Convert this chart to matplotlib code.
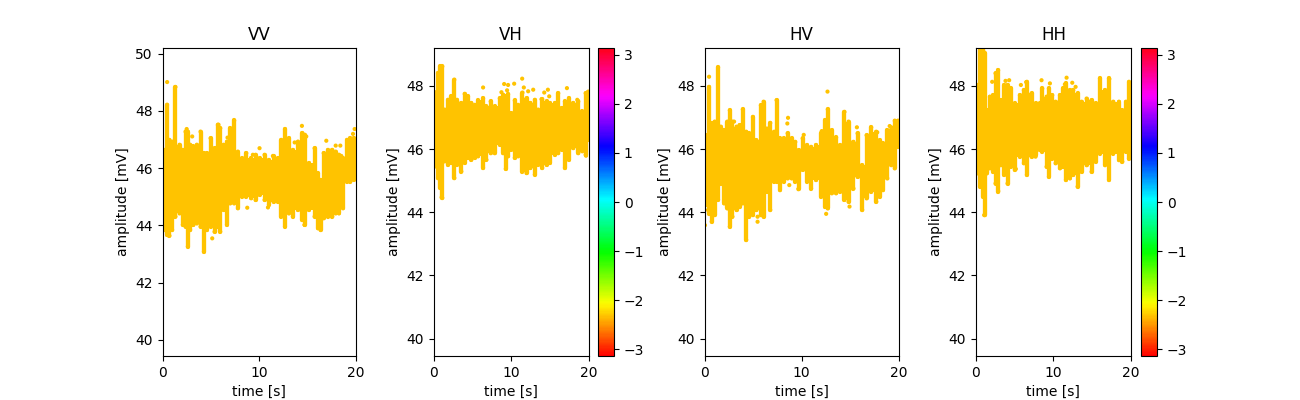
import numpy as np
import matplotlib
matplotlib.use("Agg")
import matplotlib.pyplot as plt

panel_titles = ["VV", "VH", "HV", "HH"]
phase_value = -2.33  # rad

vv_t = [.2,.48,.72,1.0,1.34,1.76,2.1,2.38,2.62,2.86,3.2,3.55,3.93,4.28,4.59,4.97,5.38,5.72,5.97,6.31,6.66,7.0,7.41,7.79,8.24,8.66,9.17,9.62,10.03,10.55,11.0,11.48,11.93,12.28,12.66,13.07,13.48,14.0,14.45,14.69,15.14,15.72,16.07,16.34,16.66,17.1,17.55,17.9,18.24,18.66,19.07,19.41,19.76]
vv_hi = [46.64,48.22,46.99,46.93,48.84,46.82,46.64,47.28,47.28,46.82,46.76,46.82,47.28,46.53,46.53,47.05,46.7,47.52,47.4,46.82,46.93,47.4,47.67,46.58,46.35,46.53,46.35,46.47,46.35,46.47,46.29,46.41,46.35,46.99,47.37,47.05,46.64,46.93,47.23,47.17,46.18,46.7,45.82,45.59,46.53,46.64,46.64,46.58,46.47,46.35,46.99,47.05,47.05]
vv_lo = [43.84,43.67,43.64,43.84,44.31,44.42,44.02,43.96,43.26,43.84,44.02,44.07,43.96,43.08,43.84,43.96,43.78,43.96,43.78,44.54,44.02,44.77,44.77,44.6,45.01,45.01,44.95,44.89,45.07,44.89,44.72,44.83,44.83,44.31,43.96,44.42,44.31,44.54,44.19,44.02,44.54,44.31,43.9,43.84,44.25,44.31,44.31,44.42,44.42,44.6,45.53,45.53,45.59]
vv_out_t = [.48,5.79,2.5,3.07,6.72,10.03,14.41,14.86,13.66,16.93,17.9,18.38,19.69,19.86,8.76,5.14,14.69,10.9,18.48,9.34,11.41]
vv_out_v = [49.01,47.52,47.37,47.11,47.07,46.7,47.48,47.11,46.9,46.96,46.79,46.79,47.2,47.37,44.62,43.55,44.02,44.63,46.43,46.47,46.43]

vh_t = [.22,.56,.86,1.12,1.42,1.85,2.28,2.67,3.01,3.57,4.0,4.43,4.86,5.29,5.72,6.37,6.8,7.35,7.87,8.52,8.95,9.29,9.59,10.02,10.45,10.88,11.44,11.96,12.47,13.03,13.46,13.98,14.54,14.97,15.61,16.04,16.47,16.9,17.42,17.98,18.62,19.14,19.57,19.91]
vh_hi = [47.77,48.41,48.62,48.62,47.25,47.56,47.67,48.2,47.56,47.46,47.75,47.67,47.46,47.4,47.54,47.61,47.35,47.51,47.35,47.61,47.72,47.67,47.74,47.14,47.54,47.4,47.79,47.61,47.46,47.56,47.25,47.58,47.51,47.46,47.46,47.77,47.3,47.51,47.61,47.46,47.51,47.19,47.77,47.82]
vh_lo = [45.45,45.08,44.77,44.45,45.61,45.5,45.56,45.08,45.5,45.29,45.56,45.72,45.66,45.72,45.77,45.4,45.66,45.87,45.87,46.14,45.87,45.37,45.77,45.98,45.72,45.77,45.29,45.24,45.4,45.19,45.5,45.4,45.5,45.56,45.82,45.87,45.98,45.4,45.66,46.03,45.87,45.93,45.82,46.3]
vh_out_t = [6.37,8.73,9.08,9.59,9.46,10.37,11.4,11.61,12.17,12.82,14.24,14.71,14.88,17.16,18.49,19.61,1.03,13.89,.22]
vh_out_v = [47.95,47.8,48.06,48.03,47.86,48.07,48.23,47.95,47.83,47.88,47.79,47.88,47.67,47.93,47.56,45.79,44.47,47.58,47.8]

hv_t = [.14,.45,.72,1.03,1.38,1.66,2.0,2.34,2.59,2.86,3.28,3.59,3.93,4.28,4.59,4.97,5.34,5.79,6.07,6.41,6.76,7.17,7.41,7.76,8.14,8.55,8.97,9.34,9.69,10.1,10.55,10.97,11.48,12.0,12.41,12.69,13.1,13.55,13.97,14.41,14.83,15.34,15.76,16.24,16.69,17.17,17.69,18.03,18.38,18.83,19.24,19.59,19.93]
hv_hi = [46.44,47.97,46.81,46.87,48.59,46.71,46.6,46.87,47.23,46.87,46.71,46.76,47.26,46.55,46.5,47.02,46.28,47.39,47.5,46.65,46.83,46.55,47.55,46.34,46.34,46.5,46.34,46.23,45.97,46.34,46.13,46.07,46.13,46.5,46.92,47.26,46.6,46.37,46.13,47.18,46.87,46.23,46.5,45.49,46.44,46.69,46.55,46.28,46.18,46.6,46.6,46.9,46.9]
hv_lo = [44.23,43.96,43.7,43.91,44.39,44.91,44.28,44.12,43.54,43.86,44.07,44.17,44.28,43.12,43.86,43.91,44.07,43.91,43.86,44.65,44.07,44.97,44.97,44.7,44.97,45.07,45.07,44.97,44.75,45.34,44.97,44.75,45.02,44.49,44.17,44.12,44.6,44.6,44.65,44.39,44.33,44.75,45.12,44.07,44.44,44.65,44.33,44.49,44.7,45.07,45.49,45.39,46.07]
hv_out_t = [.45,12.66,8.59,8.52,10.21,15.69,12.52,14.93,8.31,8.72,9.66,5.45,5.45,.03,.03,19.07,3.03,12.07,17.79,19.24]
hv_out_v = [48.29,47.82,46.99,46.81,46.45,46.69,43.95,44.18,45.19,44.86,44.73,43.7,43.86,43.59,44.07,46.73,46.87,46.57,46.53,46.69]

hh_t = [.22,.6,.95,1.16,1.42,1.81,2.24,2.54,2.88,3.23,3.66,4.09,4.52,5.03,5.68,6.19,6.58,7.18,7.74,8.26,8.56,9.12,9.42,9.85,10.28,10.84,11.27,11.61,12.13,12.56,13.12,13.63,14.28,14.92,15.44,16.0,16.65,17.16,17.72,18.45,18.88,19.35,19.74]
hh_hi = [48.03,49.13,49.13,49.03,47.23,47.66,47.71,48.4,48.5,47.55,48.03,48.03,47.92,47.45,47.71,47.87,48.13,47.76,47.45,47.45,47.92,47.66,47.92,47.71,47.5,47.71,47.92,48.08,47.87,47.87,47.76,47.5,47.6,47.55,47.45,48.24,47.87,48.24,47.5,47.5,47.23,47.5,48.13]
hh_lo = [45.23,44.81,44.49,43.91,45.23,45.39,45.28,44.91,44.65,45.49,45.18,44.91,45.44,45.34,45.76,45.55,45.18,45.76,45.81,45.97,45.92,45.44,45.12,45.7,45.55,45.39,45.44,45.02,45.07,45.18,44.81,45.28,45.49,45.28,45.6,45.86,45.49,45.02,45.86,45.65,45.6,45.92,45.7]
hh_out_t = [2.11,3.83,4.3,5.81,6.49,8.47,9.55,11.7,12.43,11.48,12.86,17.2,7.7,5.16,2.88,1.08]
hh_out_v = [48.13,48.16,48.18,48.03,48.12,48.18,48.08,48.26,48.1,48.05,47.97,48.22,45.76,45.37,44.68,43.91]

series = [
    (vv_t, vv_hi, vv_lo, vv_out_t, vv_out_v),
    (vh_t, vh_hi, vh_lo, vh_out_t, vh_out_v),
    (hv_t, hv_hi, hv_lo, hv_out_t, hv_out_v),
    (hh_t, hh_hi, hh_lo, hh_out_t, hh_out_v),
]
W, H = 1300, 400
boxes = [(162.5, 356), (433.6, 589), (704.7, 898.7), (975.8, 1131)]
cbars = {1: (598, 614), 3: (1141, 1157)}
ylims = [(39.44, 50.2), (39.45, 49.2), (39.45, 49.2), (39.45, 49.2)]
yticks = [[40, 42, 44, 46, 48, 50], [40, 42, 44, 46, 48], [40, 42, 44, 46, 48], [40, 42, 44, 46, 48]]
bottom, height = 44 / H, 308 / H
cmap = plt.get_cmap("hsv")
norm = plt.Normalize(-np.pi, np.pi)
band_colour = cmap(norm(phase_value))

fig = plt.figure(figsize=(13, 4), dpi=100)
for i, (box, data) in enumerate(zip(boxes, series)):
    t, hi, lo, ot, ov = [np.asarray(d, dtype=float) for d in data]
    ax = fig.add_axes([box[0] / W, bottom, (box[1] - box[0]) / W, height])
    # the dense oscillation: solid band between neighbouring strokes
    ax.fill_between(t, np.append(np.maximum(lo[:-1], lo[1:]), lo[-1]),
                    np.append(np.minimum(hi[:-1], hi[1:]), hi[-1]),
                    step="post", color=band_colour, linewidth=0)
    vl = ax.vlines(t, lo, hi, linewidth=3.1, colors=[band_colour], capstyle="round")
    sc = ax.scatter(np.r_[t, t, ot], np.r_[hi, lo, ov],
                    c=np.full(2 * len(t) + len(ot), phase_value),
                    cmap=cmap, norm=norm, s=9, linewidths=0)
    ax.set_xlim(0, 20)
    ax.set_ylim(*ylims[i])
    ax.set_xticks([0, 10, 20])
    ax.set_yticks(yticks[i])
    ax.set_title(panel_titles[i])
    ax.set_xlabel("time [s]")
    ax.set_ylabel("amplitude [mV]")
    if i in cbars:
        x0, x1 = cbars[i]
        cax = fig.add_axes([x0 / W, bottom, (x1 - x0) / W, height])
        fig.colorbar(sc, cax=cax, ticks=[-3, -2, -1, 0, 1, 2, 3])
fig.savefig("out.png", dpi=100)
